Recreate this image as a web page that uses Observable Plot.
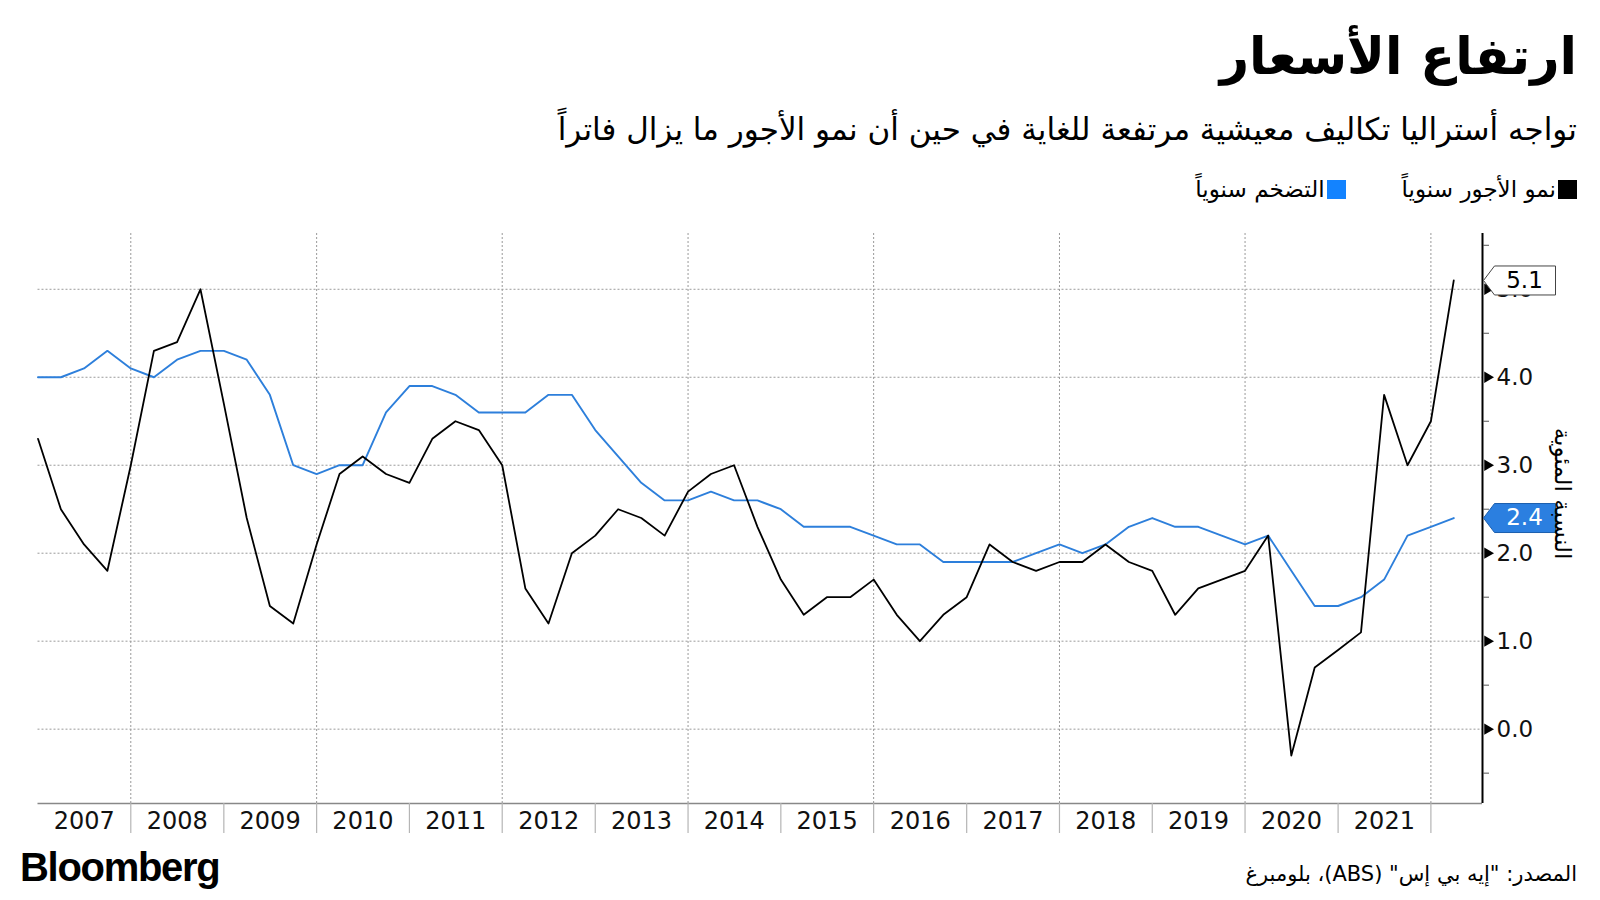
<!DOCTYPE html>
<html>
<head>
<meta charset="utf-8">
<script src="https://cdn.jsdelivr.net/npm/d3@7"></script>
<script src="https://cdn.jsdelivr.net/npm/@observablehq/plot@0.6"></script>
<style>
  html, body { margin: 0; padding: 0; background: #fff; }
  body { width: 1600px; height: 900px; position: relative; overflow: hidden; font-family: "DejaVu Sans", sans-serif; color: #000; }
  .abs { position: absolute; white-space: nowrap; line-height: 1; }
  #title { right: 23px; top: 31px; font-size: 51px; font-weight: bold; direction: rtl; }
  #subtitle { right: 23px; top: 114px; font-size: 31px; direction: rtl; }
  #legend { right: 23px; top: 178px; font-size: 23px; direction: rtl; display: flex; gap: 56px; }
  #legend .item { display: flex; align-items: center; gap: 2px; }
  #legend .sw { width: 19px; height: 19px; display: inline-block; }
  #chart { left: 0; top: 222px; }
  #logo { left: 20px; top: 847px; font-family: "Liberation Sans", Arial, sans-serif; font-weight: bold; font-size: 40px; letter-spacing: -1.3px; }
  #source { right: 23px; top: 864px; font-size: 21px; direction: rtl; }
</style>
</head>
<body>
<div id="title" class="abs">ارتفاع الأسعار</div>
<div id="subtitle" class="abs">تواجه أستراليا تكاليف معيشية مرتفعة للغاية في حين أن نمو الأجور ما يزال فاتراً</div>
<div id="legend" class="abs"></div>
<div id="chart" class="abs"></div>
<div id="logo" class="abs">Bloomberg</div>
<div id="source" class="abs">المصدر: "إيه بي إس" (ABS)، بلومبرغ</div>
<script>
// ---- Data (quarter-end months) ----
const quarters = [
  "2006-12","2007-03","2007-06","2007-09","2007-12","2008-03","2008-06","2008-09","2008-12",
  "2009-03","2009-06","2009-09","2009-12","2010-03","2010-06","2010-09","2010-12",
  "2011-03","2011-06","2011-09","2011-12","2012-03","2012-06","2012-09","2012-12",
  "2013-03","2013-06","2013-09","2013-12","2014-03","2014-06","2014-09","2014-12",
  "2015-03","2015-06","2015-09","2015-12","2016-03","2016-06","2016-09","2016-12",
  "2017-03","2017-06","2017-09","2017-12","2018-03","2018-06","2018-09","2018-12",
  "2019-03","2019-06","2019-09","2019-12","2020-03","2020-06","2020-09","2020-12",
  "2021-03","2021-06","2021-09","2021-12","2022-03"
];
// black series (legend: نمو الأجور سنوياً)
const wageGrowth = [
  3.3,2.5,2.1,1.8,3.0,4.3,4.4,5.0,3.7,
  2.4,1.4,1.2,2.1,2.9,3.1,2.9,2.8,
  3.3,3.5,3.4,3.0,1.6,1.2,2.0,2.2,
  2.5,2.4,2.2,2.7,2.9,3.0,2.3,1.7,
  1.3,1.5,1.5,1.7,1.3,1.0,1.3,1.5,
  2.1,1.9,1.8,1.9,1.9,2.1,1.9,1.8,
  1.3,1.6,1.7,1.8,2.2,-0.3,0.7,0.9,
  1.1,3.8,3.0,3.5,5.1
];
// blue series (legend: التضخم سنوياً)
const inflation = [
  4.0,4.0,4.1,4.3,4.1,4.0,4.2,4.3,4.3,
  4.2,3.8,3.0,2.9,3.0,3.0,3.6,3.9,
  3.9,3.8,3.6,3.6,3.6,3.8,3.8,3.4,
  3.1,2.8,2.6,2.6,2.7,2.6,2.6,2.5,
  2.3,2.3,2.3,2.2,2.1,2.1,1.9,1.9,
  1.9,1.9,2.0,2.1,2.0,2.1,2.3,2.4,
  2.3,2.3,2.2,2.1,2.2,1.8,1.4,1.4,
  1.5,1.7,2.2,2.3,2.4
];
const yearLabels = [2007,2008,2009,2010,2011,2012,2013,2014,2015,2016,2017,2018,2019,2020,2021];
const gridYears = [2008,2010,2012,2014,2016,2018,2020,2022];
const majorTicks = [0,1,2,3,4,5];
const minorTicks = [-0.5,0.5,1.5,2.5,3.5,4.5,5.5];
const seriesNames = ["نمو الأجور سنوياً","التضخم سنوياً"];
const yTitle = "النسبة المئوية";

const BLACK = "#000000", BLUE = "#2d7fdb", LEGEND_BLUE = "#1383ff";

// ---- Build table ----
const parseQ = d3.utcParse("%Y-%m");
const qDate = s => d3.utcMonth.offset(parseQ(s), 1); // end of quarter month
const data = quarters.map((q, i) => ({date: qDate(q), wage: wageGrowth[i], infl: inflation[i]}));
const yearStart = y => new Date(Date.UTC(y, 0, 1));
const yearMid = y => new Date(Date.UTC(y, 6, 2));

const xDomain = [yearStart(2007), new Date(Date.UTC(2022, 6, 23))];
const yDomain = [-0.845, 5.634];

const last = [
  {value: wageGrowth[wageGrowth.length - 1], fill: "#fff", stroke: "#444", text: "#000"},
  {value: inflation[inflation.length - 1], fill: "#2b7fe0", stroke: "#1c5fae", text: "#fff"}
];

const labelShape = {
  draw(ctx) {
    ctx.moveTo(1, 0);
    ctx.lineTo(12, -14.5);
    ctx.lineTo(73, -14.5);
    ctx.lineTo(73, 14.5);
    ctx.lineTo(12, 14.5);
    ctx.closePath();
  }
};

// ---- Legend ----
const legend = document.getElementById("legend");
[[seriesNames[0], BLACK], [seriesNames[1], LEGEND_BLUE]].forEach(([name, c]) => {
  const it = document.createElement("span");
  it.className = "item";
  it.innerHTML = `<span class="sw" style="background:${c}"></span><span>${name}</span>`;
  legend.appendChild(it);
});

// ---- Chart ----
const chart = Plot.plot({
  width: 1600,
  height: 620,
  marginTop: 11,
  marginBottom: 39,
  marginLeft: 37.5,
  marginRight: 118,
  x: {type: "utc", domain: xDomain},
  y: {domain: yDomain},
  style: {fontFamily: "DejaVu Sans, sans-serif", background: "transparent", overflow: "visible", color: "#000"},
  marks: [
    Plot.ruleY(majorTicks, {stroke: "#9a9a9a", strokeWidth: 1, strokeDasharray: "2,2"}),
    Plot.ruleX(gridYears.map(yearStart), {stroke: "#9a9a9a", strokeWidth: 1, strokeDasharray: "2,2"}),
    Plot.line(data, {x: "date", y: "infl", stroke: BLUE, strokeWidth: 1.9}),
    Plot.line(data, {x: "date", y: "wage", stroke: BLACK, strokeWidth: 1.8}),
    // bottom axis line
    Plot.ruleY([yDomain[0]], {stroke: "#888", strokeWidth: 1.5}),
    // year separators
    Plot.axisX(yearLabels.slice(1).map(yearStart).concat([yearStart(2022)]), {
      tickSize: 30, tickFormat: () => "", stroke: "#b5b5b5", strokeWidth: 1.2
    }),
    // year labels
    Plot.axisX(yearLabels.map(yearMid), {
      tickSize: 0, tickPadding: 8, tickFormat: d3.utcFormat("%Y"), fontSize: 24, fill: "#111"
    }),
    // right axis line
    Plot.ruleX([xDomain[1]], {stroke: "#000", strokeWidth: 2}),
    Plot.axisY(minorTicks, {anchor: "right", tickSize: 6, tickFormat: () => "", stroke: "#555"}),
    Plot.dot(majorTicks, {y: d => d, frameAnchor: "right", symbol: "triangle", rotate: 90, r: 4.2, fill: "#000", dx: 5}),
    Plot.axisY(majorTicks, {anchor: "right", tickSize: 0, tickPadding: 14, tickFormat: d3.format(".1f"), fontSize: 23, fill: "#111"}),
    // value labels
    Plot.dot(last, {y: "value", frameAnchor: "right", symbol: labelShape, fill: "fill", stroke: "stroke", strokeWidth: 1, r: 1}),
    Plot.text(last, {y: "value", frameAnchor: "right", textAnchor: "middle", dx: 42, text: d => d3.format(".1f")(d.value), fill: "text", fontSize: 23}),
    // y title
    Plot.text([yTitle], {frameAnchor: "right", textAnchor: "middle", dx: 80, dy: -25, rotate: 90, fontSize: 23, fill: "#000"})
  ]
});
document.getElementById("chart").appendChild(chart);
</script>
</body>
</html>
